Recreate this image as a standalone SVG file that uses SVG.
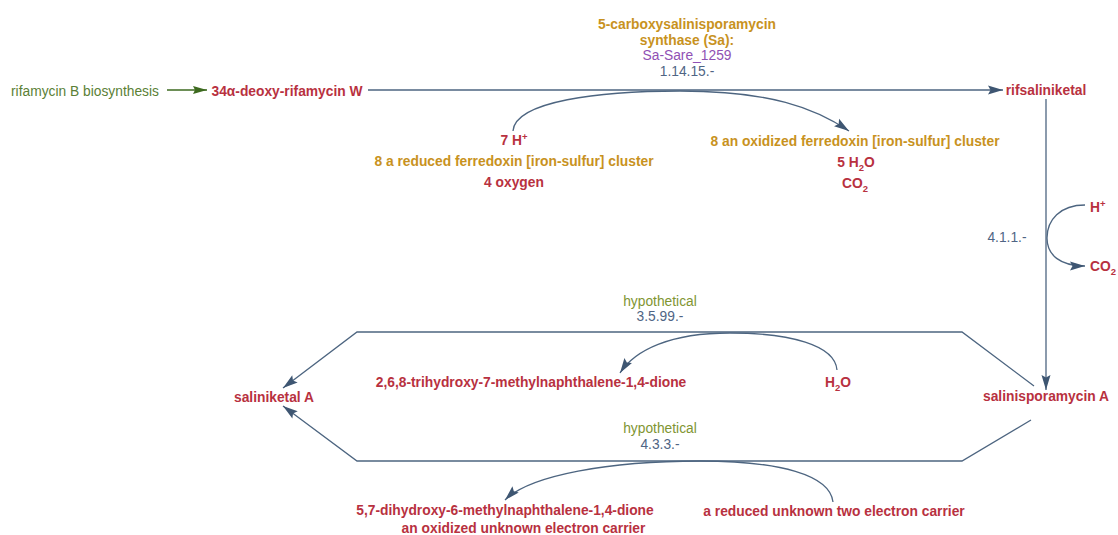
<svg xmlns="http://www.w3.org/2000/svg" width="1118" height="535" viewBox="0 0 1118 535">
<style>
text{font-family:"Liberation Sans",Arial,sans-serif;font-size:13.8px}
.cpd{font-weight:bold;fill:#B8313F}
.prot{font-weight:bold;fill:#C8921E}
.enz{font-weight:bold;fill:#C8921E}
.gene{fill:#9050B4}
.ec{fill:#4F6584}
.hyp{fill:#7F9532}
.path{fill:#5B7F36}
.c{text-anchor:middle}
.ln{fill:none;stroke:#4D6580;stroke-width:1.3}
.gl{fill:none;stroke:#3D6A1F;stroke-width:1.3}
.sub{font-size:9.5px}
</style>
<defs>
<marker id="ah" markerUnits="userSpaceOnUse" markerWidth="16" markerHeight="10" refX="15" refY="4.5" orient="auto" overflow="visible">
<path d="M0,0 L15,4.5 L0,9 L2.5,4.5 z" fill="#3E5672"/>
</marker>
<marker id="ahg" markerUnits="userSpaceOnUse" markerWidth="16" markerHeight="10" refX="14" refY="4" orient="auto" overflow="visible">
<path d="M0,0 L14,4 L0,8 L2,4 z" fill="#3D6A1F"/>
</marker>
</defs>
<rect width="1118" height="535" fill="#ffffff"/>
<g id="connectors">
<path class="gl" d="M167,90 L207,90" marker-end="url(#ahg)"/>
<path class="ln" d="M368,90 L1003,90" marker-end="url(#ah)"/>
<path class="ln" d="M513,131 C515,101 600,91 680,91 C770,91 815,108 849,131" marker-end="url(#ah)"/>
<path class="ln" d="M1046,99 L1046,390" marker-end="url(#ah)"/>
<path class="ln" d="M1085,205 C1060,205 1047,220 1047,238 C1047,255 1060,266 1085,266" marker-end="url(#ah)"/>
<path class="ln" d="M1034,386 L962,332 L357,332 L283,388" marker-end="url(#ah)"/>
<path class="ln" d="M837,370 C835,345 790,333 730,333 C670,333 635,350 620,373" marker-end="url(#ah)"/>
<path class="ln" d="M1031,420 L962,461 L357,461 L283,406" marker-end="url(#ah)"/>
<path class="ln" d="M833,502 C830,475 780,461 700,461 C610,461 530,475 505,500" marker-end="url(#ah)"/>
</g>
<g id="rifamycin-B-biosynthesis"><text class="path" x="11" y="96">rifamycin B biosynthesis</text></g>
<g id="deoxy-rifamycin-W"><text class="cpd c" x="287" y="96">34α-deoxy-rifamycin W</text></g>
<g id="rifsaliniketal"><text class="cpd c" x="1046" y="95">rifsaliniketal</text></g>
<g id="enzyme-1">
<text class="enz c" x="687" y="29">5-carboxysalinisporamycin</text>
<text class="enz c" x="687" y="44.5">synthase (Sa):</text>
<text class="gene c" x="687" y="60">Sa-Sare_1259</text>
<text class="ec c" x="687" y="75.5">1.14.15.-</text>
</g>
<g id="substrates-1">
<text class="cpd c" x="514" y="145">7 H<tspan class="sub" dy="-5">+</tspan></text>
<text class="prot c" x="514" y="166">8 a reduced ferredoxin [iron-sulfur] cluster</text>
<text class="cpd c" x="514" y="186.5">4 oxygen</text>
</g>
<g id="products-1">
<text class="prot c" x="855" y="146">8 an oxidized ferredoxin [iron-sulfur] cluster</text>
<text class="cpd c" x="856" y="167">5 H<tspan class="sub" dy="4">2</tspan><tspan dy="-4">O</tspan></text>
<text class="cpd c" x="855" y="188">CO<tspan class="sub" dy="4">2</tspan></text>
</g>
<g id="enzyme-2"><text class="ec c" x="1007" y="242">4.1.1.-</text></g>
<g id="side-2">
<text class="cpd" x="1090" y="212">H<tspan class="sub" dy="-5">+</tspan></text>
<text class="cpd" x="1090" y="271">CO<tspan class="sub" dy="4">2</tspan></text>
</g>
<g id="salinisporamycin-A"><text class="cpd c" x="1046" y="401">salinisporamycin A</text></g>
<g id="saliniketal-A"><text class="cpd c" x="274" y="402">saliniketal A</text></g>
<g id="enzyme-3">
<text class="hyp c" x="660" y="305.5">hypothetical</text>
<text class="ec c" x="660" y="321">3.5.99.-</text>
</g>
<g id="side-3">
<text class="cpd c" x="531" y="387">2,6,8-trihydroxy-7-methylnaphthalene-1,4-dione</text>
<text class="cpd c" x="838" y="387">H<tspan class="sub" dy="4">2</tspan><tspan dy="-4">O</tspan></text>
</g>
<g id="enzyme-4">
<text class="hyp c" x="660" y="433">hypothetical</text>
<text class="ec c" x="660" y="449">4.3.3.-</text>
</g>
<g id="side-4">
<text class="cpd c" x="505" y="515">5,7-dihydroxy-6-methylnaphthalene-1,4-dione</text>
<text class="cpd c" x="523.5" y="533">an oxidized unknown electron carrier</text>
<text class="cpd c" x="834" y="515.5">a reduced unknown two electron carrier</text>
</g>
</svg>
